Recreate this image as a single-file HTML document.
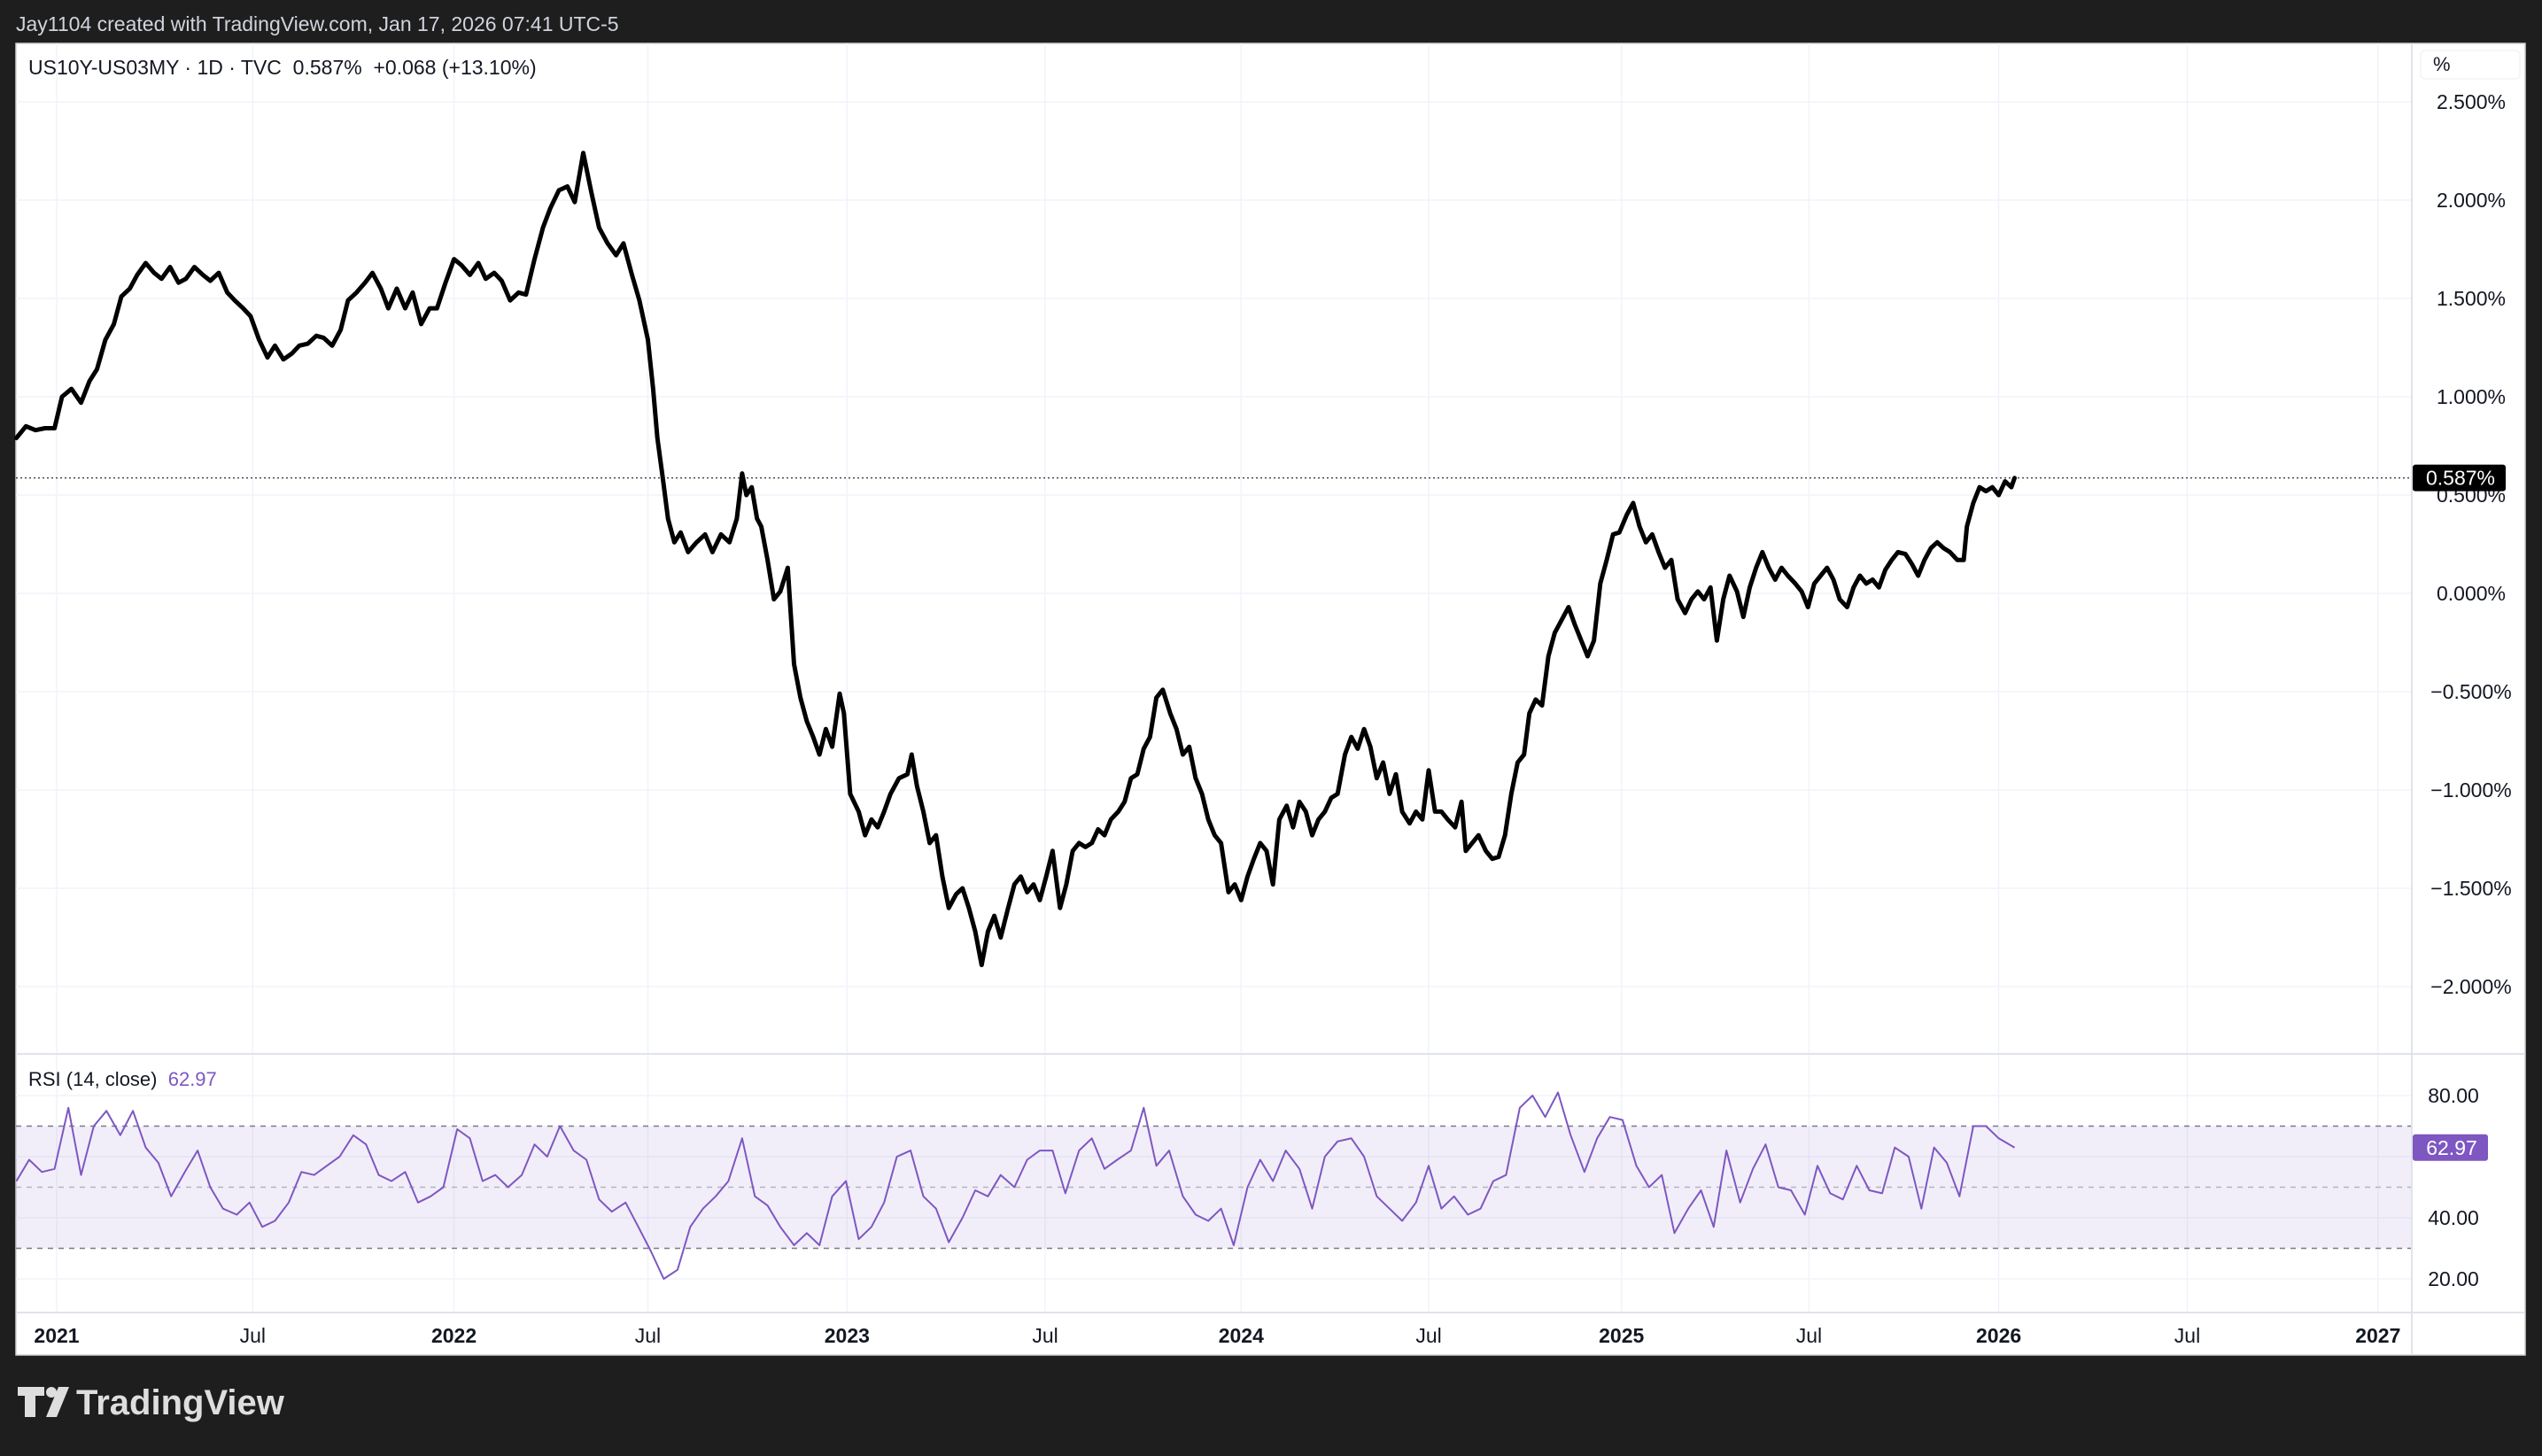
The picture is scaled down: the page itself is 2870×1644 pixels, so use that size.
<!DOCTYPE html>
<html><head><meta charset="utf-8">
<style>
html,body{margin:0;padding:0;background:#1e1e1e;}
body{width:2870px;height:1639px;overflow:hidden;font-family:"Liberation Sans",sans-serif;}
svg text{font-family:"Liberation Sans",sans-serif;}
</style></head>
<body>
<svg id="chart" width="2870" height="1639" xmlns="http://www.w3.org/2000/svg">
<rect x="0" y="0" width="2870" height="1639" fill="#1e1e1e"/>
<text x="18" y="35" font-size="23" fill="#d1d4dc">Jay1104 created with TradingView.com, Jan 17, 2026 07:41 UTC-5</text>
<rect x="18" y="49" width="2833" height="1481" fill="#ffffff" stroke="#cfcfcf" stroke-width="1.5"/>
<g id="grid"></g>
<g id="rsiband"></g>
<g id="series"></g>
<g id="axes"></g>
<text x="32" y="84" font-size="23" fill="#131722">US10Y-US03MY · 1D · TVC&#160;&#160;0.587%&#160;&#160;+0.068 (+13.10%)</text>
<text x="32" y="1226" font-size="22" fill="#131722">RSI (14, close)&#160;&#160;<tspan fill="#7e57c2">62.97</tspan></text>
<rect x="2733" y="57" width="112" height="32" rx="5" fill="#fff" stroke="#eeeeee"/>
<text x="2747" y="80" font-size="22" fill="#131722">%</text>
<g fill="#dedede">
<path d="M20 1566 h30 v10 h-10 v24 h-12 v-24 h-8 z"/>
<circle cx="58" cy="1572" r="6"/>
<path d="M66 1566 h12 l-14 34 h-12 z"/>
<text x="86" y="1597" font-size="40" font-weight="bold">TradingView</text>
</g>
</svg>
<script>
const priceDays=[-38,-29,-20,-11,-2,5,14,23,31,38,46,54,61,69,76,84,92,99,107,115,122,130,138,145,153,161,168,176,183,191,199,206,214,222,229,237,245,252,260,268,275,283,291,298,306,313,321,329,336,344,352,359,367,375,382,390,398,405,413,420,428,436,443,451,459,466,474,482,489,497,505,512,520,528,535,543,550,558,563,567,572,577,583,589,596,604,612,619,627,635,642,647,651,656,661,665,671,677,683,690,696,702,708,714,720,726,732,739,743,749,757,763,769,775,781,787,795,803,807,812,818,824,830,836,842,849,855,861,867,873,879,885,891,898,904,910,916,922,928,934,940,947,953,959,965,971,977,983,989,995,1002,1008,1014,1020,1026,1032,1038,1044,1051,1057,1063,1069,1075,1081,1087,1093,1099,1106,1112,1118,1124,1130,1136,1142,1148,1154,1161,1167,1173,1179,1185,1191,1197,1203,1209,1216,1222,1228,1234,1240,1246,1252,1258,1264,1270,1277,1283,1289,1295,1301,1307,1313,1320,1326,1330,1336,1342,1349,1355,1361,1367,1373,1379,1385,1390,1396,1402,1408,1414,1420,1427,1433,1439,1445,1451,1457,1463,1469,1475,1482,1488,1494,1500,1506,1512,1518,1524,1530,1537,1543,1549,1555,1561,1567,1573,1579,1586,1592,1598,1604,1610,1616,1622,1628,1634,1641,1647,1653,1659,1665,1671,1677,1683,1690,1696,1702,1708,1714,1720,1726,1732,1738,1745,1751,1757,1763,1769,1775,1781,1787,1794,1800,1803,1809,1815,1821,1827,1833,1839,1845,1848];
const priceValues=[0.79,0.85,0.83,0.84,0.84,1.00,1.04,0.97,1.08,1.14,1.29,1.37,1.51,1.55,1.62,1.68,1.63,1.60,1.66,1.58,1.60,1.66,1.62,1.59,1.63,1.53,1.49,1.45,1.41,1.29,1.20,1.26,1.19,1.22,1.26,1.27,1.31,1.30,1.26,1.34,1.49,1.53,1.58,1.63,1.55,1.45,1.55,1.45,1.53,1.37,1.45,1.45,1.58,1.70,1.67,1.62,1.68,1.60,1.63,1.59,1.49,1.53,1.52,1.70,1.86,1.96,2.05,2.07,1.99,2.24,2.03,1.86,1.78,1.72,1.78,1.62,1.49,1.29,1.04,0.79,0.59,0.38,0.26,0.31,0.21,0.26,0.30,0.21,0.30,0.26,0.38,0.61,0.50,0.54,0.38,0.34,0.17,-0.03,0.01,0.13,-0.36,-0.53,-0.65,-0.73,-0.82,-0.69,-0.78,-0.51,-0.61,-1.02,-1.11,-1.23,-1.15,-1.19,-1.11,-1.02,-0.94,-0.92,-0.82,-0.98,-1.11,-1.27,-1.23,-1.44,-1.60,-1.53,-1.50,-1.60,-1.72,-1.89,-1.72,-1.64,-1.75,-1.60,-1.48,-1.44,-1.52,-1.48,-1.56,-1.44,-1.31,-1.60,-1.48,-1.31,-1.27,-1.29,-1.27,-1.20,-1.23,-1.15,-1.11,-1.06,-0.94,-0.92,-0.79,-0.73,-0.53,-0.49,-0.61,-0.69,-0.82,-0.78,-0.94,-1.02,-1.15,-1.23,-1.27,-1.52,-1.48,-1.56,-1.44,-1.35,-1.27,-1.31,-1.48,-1.15,-1.08,-1.19,-1.06,-1.11,-1.23,-1.15,-1.11,-1.04,-1.02,-0.82,-0.73,-0.79,-0.69,-0.78,-0.94,-0.86,-1.02,-0.92,-1.11,-1.17,-1.11,-1.15,-0.90,-1.11,-1.11,-1.15,-1.19,-1.06,-1.31,-1.27,-1.23,-1.31,-1.35,-1.34,-1.23,-1.02,-0.86,-0.82,-0.61,-0.54,-0.57,-0.32,-0.20,-0.14,-0.07,-0.16,-0.24,-0.32,-0.24,0.05,0.17,0.30,0.31,0.40,0.46,0.34,0.26,0.30,0.21,0.13,0.17,-0.03,-0.10,-0.03,0.01,-0.03,0.03,-0.24,-0.03,0.09,0.01,-0.12,0.03,0.13,0.21,0.13,0.07,0.13,0.09,0.05,0.01,-0.07,0.05,0.09,0.13,0.07,-0.03,-0.07,0.03,0.09,0.05,0.07,0.03,0.12,0.17,0.21,0.20,0.15,0.09,0.17,0.23,0.26,0.23,0.21,0.17,0.17,0.34,0.46,0.54,0.52,0.54,0.50,0.57,0.54,0.587];
const rsiDays=[-38,-26,-14,-2,11,23,35,47,60,72,84,96,108,121,133,145,157,170,182,194,206,219,231,243,255,267,280,292,304,316,329,341,353,365,378,390,402,414,426,439,451,463,475,488,500,512,524,537,549,561,573,586,598,610,622,634,647,659,671,683,696,708,720,732,745,757,769,781,793,806,818,830,842,855,867,879,891,904,916,928,940,952,965,977,989,1001,1014,1026,1038,1050,1063,1075,1087,1099,1111,1124,1136,1148,1160,1173,1185,1197,1209,1222,1234,1246,1258,1270,1283,1295,1307,1319,1332,1344,1356,1368,1381,1393,1405,1417,1429,1442,1454,1466,1478,1491,1503,1515,1527,1540,1552,1564,1576,1589,1601,1613,1625,1637,1650,1662,1674,1686,1699,1711,1723,1735,1748,1760,1772,1784,1796,1809,1821,1833,1848];
const rsiValues=[52,59,55,56,76,54,70,75,67,75,63,58,47,55,62,50,43,41,45,37,39,45,55,54,57,60,67,64,54,52,55,45,47,50,69,66,52,54,50,54,64,60,70,62,59,46,42,45,37,29,20,23,37,43,47,52,66,47,44,37,31,35,31,47,52,33,37,45,60,62,47,43,32,40,49,47,54,50,59,62,62,48,62,66,56,59,62,76,57,62,47,41,39,43,31,50,59,52,62,56,43,60,65,66,60,47,43,39,45,57,43,47,41,43,52,54,76,80,73,81,67,55,66,73,72,57,50,54,35,43,49,37,62,45,56,64,50,49,41,57,48,46,57,49,48,63,60,43,63,58,47,70,70,66,63];
const priceTicks=[2.5,2.0,1.5,1.0,0.5,0.0,-0.5,-1.0,-1.5,-2.0];
const priceTickLabels=["2.500%","2.000%","1.500%","1.000%","0.500%","0.000%","\u22120.500%","\u22121.000%","\u22121.500%","\u22122.000%"];
const rsiTicks=[80,60,40,20];
const rsiTickLabels=["80.00","","40.00","20.00"];
const timeTickDays=[0,185,375,558,746,933,1118,1295,1477,1654,1833,2011,2191];
const timeTickLabels=["2021","Jul","2022","Jul","2023","Jul","2024","Jul","2025","Jul","2026","Jul","2027"];
const timeTickBold=[1,0,1,0,1,0,1,0,1,0,1,0,1];
const lastPrice=0.587, lastPriceLabel="0.587%";
const lastRsi=62.97, lastRsiLabel="62.97";

const NS="http://www.w3.org/2000/svg";
const X0=18, X1=2723, PY0=49, PY1=1190, RY1=1482;
function xScale(d){return 64 + d*(436.9/365.25);}
function yPrice(v){return 670 - v*222;}
function yRsi(r){return 1237 + (80-r)*3.45;}
function mk(tag,attrs,parent){const e=document.createElementNS(NS,tag);for(const k in attrs)e.setAttribute(k,attrs[k]);parent.appendChild(e);return e;}
const grid=document.getElementById('grid'), band=document.getElementById('rsiband'), series=document.getElementById('series'), axes=document.getElementById('axes');

timeTickDays.forEach((d,i)=>{
  const x=xScale(d);
  const l=mk('line',{x1:x,x2:x,y1:PY0,y2:RY1,stroke:'#f0f3fa','stroke-width':1.5},grid);
  
  
  const t=mk('text',{x:x,y:1516,'font-size':23,'text-anchor':'middle',fill:'#131722','font-weight':timeTickBold[i]?'bold':'normal'},axes);
  t.textContent=timeTickLabels[i];
  
  
});
priceTicks.forEach((v,i)=>{
  const y=yPrice(v);
  const l=mk('line',{x1:X0,x2:X1,y1:y,y2:y,stroke:'#f0f3fa','stroke-width':1.5},grid);
  
  
  const t=mk('text',{x:2790,y:y+8,'font-size':23,'text-anchor':'middle',fill:'#131722'},axes);
  t.textContent=priceTickLabels[i];
  
  
});
rsiTicks.forEach((r,i)=>{
  const y=yRsi(r);
  const l=mk('line',{x1:X0,x2:X1,y1:y,y2:y,stroke:'#f0f3fa','stroke-width':1.5},grid);
  
  
  if(rsiTickLabels[i]){
    const t=mk('text',{x:2770,y:y+8,'font-size':23,'text-anchor':'middle',fill:'#131722'},axes);
    t.textContent=rsiTickLabels[i];
    
    
  }
});
[[X1,PY0,X1,1530],[X0,PY1,2851,PY1],[X0,RY1,2851,RY1]].forEach(s=>{
  const l=mk('line',{x1:s[0],y1:s[1],x2:s[2],y2:s[3],stroke:'#e0e3eb','stroke-width':2},axes);
  
  
});
const bandRect=mk('rect',{x:X0,y:yRsi(70),width:X1-X0,height:yRsi(30)-yRsi(70),fill:'rgba(126,87,194,0.1)'},band);


[[70,'#787b86'],[50,'#b2b5be'],[30,'#787b86']].forEach(a=>{
  const y=yRsi(a[0]);
  const l=mk('line',{x1:X0,x2:X1,y1:y,y2:y,stroke:a[1],'stroke-width':1.5,'stroke-dasharray':'6 6'},band);
  
  
});
const ly=yPrice(lastPrice);
const dl=mk('line',{x1:X0,x2:X1,y1:ly,y2:ly,stroke:'#131722','stroke-width':1.2,'stroke-dasharray':'2 3'},series);


const n=Math.min(priceDays.length,priceValues.length);
let d='';
for(let i=0;i<n;i++){d+=(i?'L':'M')+xScale(priceDays[i]).toFixed(1)+' '+yPrice(priceValues[i]).toFixed(1);}
const pl=mk('path',{d:d,fill:'none',stroke:'#000','stroke-width':5,'stroke-linejoin':'round','stroke-linecap':'round'},series);


const m=Math.min(rsiDays.length,rsiValues.length);
let rd='';
for(let i=0;i<m;i++){rd+=(i?'L':'M')+xScale(rsiDays[i]).toFixed(1)+' '+yRsi(rsiValues[i]).toFixed(1);}
const rl=mk('path',{d:rd,fill:'none',stroke:'#7e57c2','stroke-width':2,'stroke-linejoin':'round'},series);


const pb=mk('rect',{x:2724,y:ly-15,width:105,height:30,rx:3,fill:'#000'},axes);


const pt=mk('text',{x:2778,y:ly+8,'font-size':23,'text-anchor':'middle',fill:'#fff'},axes);
pt.textContent=lastPriceLabel;


const ry=yRsi(lastRsi);
const rb=mk('rect',{x:2724,y:ry-15,width:85,height:30,rx:3,fill:'#7e57c2'},axes);


const rt=mk('text',{x:2768,y:ry+8,'font-size':23,'text-anchor':'middle',fill:'#fff'},axes);
rt.textContent=lastRsiLabel;


</script>
</body></html>
